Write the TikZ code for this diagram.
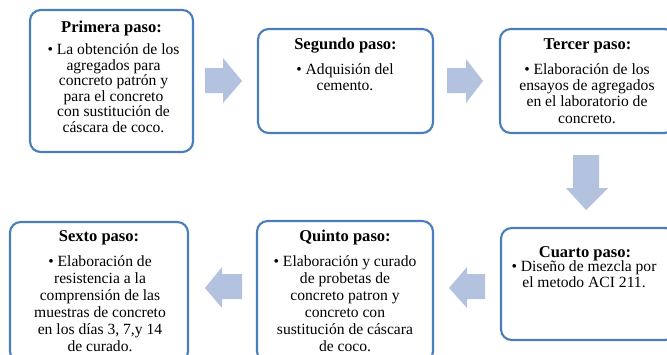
\documentclass[tikz,border=0pt]{standalone}
\usepackage{fontspec}
\setmainfont{Liberation Serif}
\definecolor{boxblue}{RGB}{74,126,187}
\definecolor{arrowfill}{RGB}{178,194,223}
\tikzset{
  stepbox/.style={draw=boxblue, line width=1.6pt, rounded corners=8pt, fill=white},
  steptitle/.style={font=\fontsize{12.4}{13}\selectfont\bfseries, inner sep=0pt, anchor=base},
  stepbody/.style={font=\fontsize{11.7}{#1}\selectfont, align=center, inner sep=0pt, anchor=base},
  blockarrow/.style={fill=arrowfill, draw=none}
}
\begin{document}
\begin{tikzpicture}[x=0.75pt, y=-0.75pt]
\path[use as bounding box, clip] (0,0) rectangle (667,354);
% boxes
\draw[stepbox] (30,10) rectangle (193,152);
\draw[stepbox] (258,29) rectangle (433,133);
\draw[stepbox] (500,29) rectangle (675,133);
\draw[stepbox] (501,228) rectangle (676,340);
\draw[stepbox] (257,221) rectangle (433,362);
\draw[stepbox] (10,222) rectangle (188,362);
% texts (body nodes anchored at the baseline of their last line)
\node[steptitle] (t1) at (111.5,32.5) {Primera paso:};
\node[stepbody=11.7pt] (b1) at (113.5,132.5) {• La obtención de los\\agregados para\\concreto patrón y\\para el concreto\\con sustitución de\\cáscara de coco.};
\node[steptitle] (t2) at (345.5,49.5) {Segundo paso:};
\node[stepbody=12.2pt] (b2) at (345,90.5) {• Adquisión del\\cemento.};
\node[steptitle] (t3) at (587.5,49.5) {Tercer paso:};
\node[stepbody=12.2pt] (b3) at (587,123) {• Elaboración de los\\ensayos de agregados\\en el laboratorio de\\concreto.};
\node[steptitle] (t4) at (585,257) {Cuarto paso:};
\node[stepbody=12pt] (b4) at (584,287.5) {• Diseño de mezcla por\\el metodo ACI 211.};
\node[steptitle] (t5) at (345,241.5) {Quinto paso:};
\node[stepbody=12.75pt] (b5) at (345,351.5) {• Elaboración y curado\\de probetas de\\concreto patron y\\concreto con\\sustitución de cáscara\\de coco.};
\node[steptitle] (t6) at (99,241.5) {Sexto paso:};
\node[stepbody=12.75pt] (b6) at (100,351.5) {• Elaboración de\\resistencia a la\\comprensión de las\\muestras de concreto\\en los días 3, 7,y 14\\de curado.};
% block arrows
\fill[blockarrow] (205,68) -- (223,68) -- (223,58) -- (242,81) -- (223,103) -- (223,93) -- (205,93) -- cycle;
\fill[blockarrow] (447,68) -- (466,68) -- (466,59) -- (483,81) -- (466,103) -- (466,93) -- (447,93) -- cycle;
\fill[blockarrow] (573,155) -- (599,155) -- (599,188) -- (608,188) -- (586,210) -- (566,188) -- (573,188) -- cycle;
\fill[blockarrow] (485,274) -- (467,274) -- (467,267) -- (449,288) -- (467,308) -- (467,299) -- (485,299) -- cycle;
\fill[blockarrow] (242,274) -- (222,274) -- (222,267) -- (205,288) -- (222,308) -- (222,299) -- (242,299) -- cycle;
\end{tikzpicture}
\end{document}
